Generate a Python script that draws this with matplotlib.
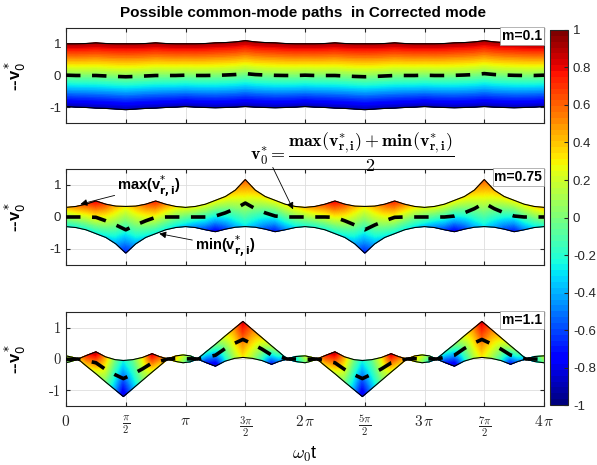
import numpy as np
import matplotlib.pyplot as plt
from matplotlib.colors import ListedColormap

plt.rcParams['font.family'] = ['Liberation Sans', 'DejaVu Sans']

# sample positions (units of pi) for m=0.1 and m=0.75 panels
t_grid = np.linspace(0, 4, 49)

# m = 0.1
upper1 = [1.00, 1.00, 1.01, 1.03, 1.01, 1.00, 1.00, 1.00, 1.01, 1.03, 1.01, 1.00,
          1.00, 1.00, 1.01, 1.03, 1.04, 1.06, 1.10, 1.06, 1.04, 1.03, 1.01, 1.00,
          1.00, 1.00, 1.01, 1.03, 1.01, 1.00, 1.00, 1.00, 1.01, 1.03, 1.01, 1.00,
          1.00, 1.00, 1.01, 1.03, 1.04, 1.06, 1.10, 1.06, 1.04, 1.03, 1.01, 1.00, 1.00]
lower1 = [-0.98, -1.00, -1.01, -1.03, -1.04, -1.06, -1.08, -1.06, -1.04, -1.03, -1.01, -1.00,
          -0.98, -1.00, -1.01, -1.02, -1.01, -1.00, -0.98, -1.00, -1.01, -1.02, -1.01, -1.00,
          -0.98, -1.00, -1.01, -1.03, -1.04, -1.06, -1.08, -1.06, -1.04, -1.03, -1.01, -1.00,
          -0.98, -1.00, -1.01, -1.02, -1.01, -1.00, -0.98, -1.00, -1.01, -1.02, -1.01, -1.00, -0.98]
ctop1 = 0.92
cbot1 = -0.92

# m = 0.75
upper2 = [0.30, 0.33, 0.40, 0.50, 0.40, 0.34, 0.33, 0.34, 0.40, 0.50, 0.40, 0.33,
          0.30, 0.33, 0.40, 0.52, 0.64, 0.84, 1.17, 0.84, 0.64, 0.52, 0.40, 0.33,
          0.30, 0.33, 0.40, 0.50, 0.40, 0.34, 0.33, 0.34, 0.40, 0.50, 0.40, 0.33,
          0.30, 0.33, 0.40, 0.52, 0.64, 0.84, 1.17, 0.84, 0.64, 0.52, 0.40, 0.33, 0.30]
lower2 = [-0.30, -0.33, -0.40, -0.52, -0.64, -0.84, -1.13, -0.84, -0.64, -0.52, -0.40, -0.33,
          -0.30, -0.33, -0.40, -0.46, -0.38, -0.32, -0.30, -0.32, -0.38, -0.46, -0.40, -0.33,
          -0.30, -0.33, -0.40, -0.52, -0.64, -0.84, -1.13, -0.84, -0.64, -0.52, -0.40, -0.33,
          -0.30, -0.33, -0.40, -0.46, -0.38, -0.32, -0.30, -0.32, -0.38, -0.46, -0.40, -0.33, -0.30]
ctop2 = [0.38, 0.50, 0.62, 0.80, 0.62, 0.42, 0.30, 0.42, 0.58, 0.72, 0.50, 0.32,
         0.25, 0.25, 0.25, 0.28, 0.32, 0.42, 0.60, 0.42, 0.32, 0.28, 0.28, 0.32,
         0.38, 0.50, 0.62, 0.80, 0.62, 0.42, 0.30, 0.42, 0.58, 0.72, 0.50, 0.32,
         0.25, 0.25, 0.25, 0.28, 0.32, 0.42, 0.60, 0.42, 0.32, 0.28, 0.28, 0.32, 0.38]
cbot2 = [-0.25, -0.25, -0.25, -0.28, -0.32, -0.42, -0.70, -0.42, -0.32, -0.28, -0.28, -0.32,
         -0.38, -0.50, -0.62, -0.80, -0.62, -0.42, -0.30, -0.42, -0.58, -0.72, -0.50, -0.32,
         -0.25, -0.25, -0.25, -0.28, -0.32, -0.42, -0.70, -0.42, -0.32, -0.28, -0.28, -0.32,
         -0.38, -0.50, -0.62, -0.80, -0.62, -0.42, -0.30, -0.42, -0.58, -0.72, -0.50, -0.32, -0.25]

# m = 1.1 (own sample positions, units of pi)
t3 = [0, 0.05, 0.10, 0.175, 0.25, 0.33, 0.41, 0.48, 0.56, 0.64, 0.72, 0.78, 0.85, 0.92, 0.98,
      1.04, 1.10, 1.175, 1.25, 1.33, 1.41, 1.48, 1.56, 1.64, 1.72, 1.78, 1.85, 1.92,
      2.0, 2.05, 2.10, 2.175, 2.25, 2.33, 2.41, 2.48, 2.56, 2.64, 2.72, 2.78, 2.85, 2.92, 2.98,
      3.04, 3.10, 3.175, 3.25, 3.33, 3.41, 3.48, 3.56, 3.64, 3.72, 3.78, 3.85, 3.92, 4.0]
upper3 = [0.10, 0.06, 0.00, 0.12, 0.23, 0.07, -0.02, -0.05, -0.02, 0.05, 0.17, 0.08, 0.00, 0.10, 0.13,
          0.10, 0.00, 0.24, 0.47, 0.73, 0.98, 1.20, 0.94, 0.68, 0.42, 0.23, 0.00, 0.08,
          0.10, 0.06, 0.00, 0.12, 0.23, 0.07, -0.02, -0.05, -0.02, 0.05, 0.17, 0.08, 0.00, 0.10, 0.13,
          0.10, 0.00, 0.24, 0.47, 0.73, 0.98, 1.20, 0.94, 0.68, 0.42, 0.23, 0.00, 0.08, 0.10]
lower3 = [-0.12, -0.07, 0.00, -0.24, -0.47, -0.73, -0.98, -1.20, -0.94, -0.68, -0.42, -0.23, 0.00, -0.08, -0.12,
          -0.09, 0.00, -0.12, -0.23, -0.07, 0.02, 0.05, 0.02, -0.05, -0.17, -0.08, 0.00, -0.08,
          -0.12, -0.07, 0.00, -0.24, -0.47, -0.73, -0.98, -1.20, -0.94, -0.68, -0.42, -0.23, 0.00, -0.08, -0.12,
          -0.09, 0.00, -0.12, -0.23, -0.07, 0.02, 0.05, 0.02, -0.05, -0.17, -0.08, 0.00, -0.08, -0.12]
ctop3 = [0.15, 0.20, 0.35, 0.70, 0.90, 0.45, 0.00, -0.25, -0.05, 0.30, 0.85, 0.60, 0.40, 0.35, 0.20,
         0.00, -0.35, -0.20, 0.00, 0.25, 0.50, 0.85, 0.55, 0.35, 0.15, -0.05, -0.40, -0.25,
         0.15, 0.20, 0.35, 0.70, 0.90, 0.45, 0.00, -0.25, -0.05, 0.30, 0.85, 0.60, 0.40, 0.35, 0.20,
         0.00, -0.35, -0.20, 0.00, 0.25, 0.50, 0.85, 0.55, 0.35, 0.15, -0.05, -0.40, -0.25, 0.15]
cbot3 = [-0.05, 0.10, 0.35, 0.30, 0.15, 0.00, -0.40, -0.85, -0.40, 0.00, 0.20, 0.30, 0.40, 0.25, 0.00,
         -0.30, -0.35, -0.70, -0.90, -0.30, 0.10, 0.30, 0.10, -0.20, -0.75, -0.50, -0.40, -0.30,
         -0.05, 0.10, 0.35, 0.30, 0.15, 0.00, -0.40, -0.85, -0.40, 0.00, 0.20, 0.30, 0.40, 0.25, 0.00,
         -0.30, -0.35, -0.70, -0.90, -0.30, 0.10, 0.30, 0.10, -0.20, -0.75, -0.50, -0.40, -0.30, -0.05]

m_labels = ['m=0.1', 'm=0.75', 'm=1.1']
xtick_labels = [r'$0$', r'$\frac{\pi}{2}$', r'$\pi$', r'$\frac{3\pi}{2}$', r'$2\,\pi$',
                r'$\frac{5\pi}{2}$', r'$3\,\pi$', r'$\frac{7\pi}{2}$', r'$4\,\pi$']

jet = ListedColormap(plt.get_cmap('jet')(np.linspace(0, 1, 64)))
FG = '#262626'


def draw_band(ax, t, top, bot, ctop, cbot):
	t = np.asarray(t, float)
	top = np.asarray(top, float)
	bot = np.asarray(bot, float)
	ctop = np.broadcast_to(np.asarray(ctop, float), t.shape)
	cbot = np.broadcast_to(np.asarray(cbot, float), t.shape)
	# fine mesh only for the shading between the two boundary curves
	tf = np.linspace(t[0], t[-1], 900)
	tp = np.interp(tf, t, top)
	bt = np.interp(tf, t, bot)
	ct = np.interp(tf, t, ctop)
	cb = np.interp(tf, t, cbot)
	f = np.linspace(0, 1, 40)[:, None]
	Y = bt + f * (tp - bt)
	C = cb + f * (ct - cb)
	X = np.broadcast_to(tf * np.pi, Y.shape)
	mesh = ax.pcolormesh(X, Y, C, cmap=jet, vmin=-1, vmax=1, shading='gouraud', zorder=1)
	ax.plot(t * np.pi, top, color='k', lw=0.8, zorder=2)
	ax.plot(t * np.pi, bot, color='k', lw=0.8, zorder=2)
	ax.plot(t * np.pi, (top + bot) / 2, color='k', lw=2.6, ls=(0, (4, 3.2)), zorder=3)
	return mesh


fig = plt.figure(figsize=(5.97, 4.65), dpi=100)
boxes = [[0.1106, 0.7355, 0.8007, 0.2043],
         [0.1106, 0.4301, 0.8007, 0.2065],
         [0.1106, 0.1269, 0.8007, 0.2021]]
axes = [fig.add_axes(b) for b in boxes]

bands = [(t_grid, upper1, lower1, ctop1, cbot1),
         (t_grid, upper2, lower2, ctop2, cbot2),
         (t3, upper3, lower3, ctop3, cbot3)]

for i, ax in enumerate(axes):
	mesh = draw_band(ax, *bands[i])
	ax.set_xlim(0, 4 * np.pi)
	ax.set_ylim(-1.5, 1.5)
	ax.set_xticks(np.arange(9) * np.pi / 2)
	ax.set_yticks([-1, 0, 1])
	ax.set_axisbelow(True)
	ax.grid(True, color='#dedede', lw=0.6)
	ax.tick_params(direction='in', top=True, right=True, length=3, color=FG, labelcolor=FG)
	for s in ax.spines.values():
		s.set_color(FG)
		s.set_linewidth(0.8)
	ax.set_ylabel(r'--v$_0^*$', fontsize=12, fontweight='bold', color='k')
	ax.yaxis.set_label_coords(-0.08, 0.5)
	ax.text(0.996, 0.988, m_labels[i], transform=ax.transAxes, ha='right', va='top',
	        fontsize=10, fontweight='bold', zorder=10,
	        bbox=dict(fc='white', ec='#999999', lw=0.5, pad=1.2))
	if i < 2:
		ax.set_xticklabels([])
		ax.set_yticklabels(['-1', '0', '1'], fontsize=9.5)

axes[2].set_xticklabels(xtick_labels, fontsize=11, math_fontfamily='cm')
axes[2].set_yticklabels(['-1', '0', '1'], fontsize=10.5, family='cmr10')
axes[2].tick_params(axis='x', pad=6)
axes[2].set_xlabel(r'$\omega_{\mathsf{0}}$t', fontsize=13, math_fontfamily='cm', labelpad=4)

fig.text(0.508, 0.972, 'Possible common-mode paths  in Corrected mode',
         ha='center', va='center', fontsize=11, fontweight='bold')

ax2 = axes[1]
arrow = dict(arrowstyle='-|>', color='k', lw=0.6, mutation_scale=10, shrinkA=0, shrinkB=0)
ax2.annotate(r'max(v$^{*}_{\mathbf{r,i}}$)', xy=(0.12 * np.pi, 0.40), xytext=(0.43 * np.pi, 0.95),
             ha='left', va='center', fontsize=10.5, fontweight='bold', arrowprops=arrow, zorder=6)
ax2.annotate(r'min(v$^{*}_{\mathbf{r,i}}$)', xy=(0.78 * np.pi, -0.52), xytext=(1.08 * np.pi, -0.92),
             ha='left', va='center', fontsize=10.5, fontweight='bold', arrowprops=arrow, zorder=6)
ax2.annotate('', xy=(1.90 * np.pi, 0.24), xytext=(1.73 * np.pi, 1.55),
             arrowprops=arrow, annotation_clip=False, zorder=6)
fig.text(0.419, 0.673,
         r'$\mathbf{v}_{\mathbf{0}}^{\ast} = \dfrac{\mathbf{max(v}_{\mathbf{r,i}}^{\ast}\mathbf{)} + '
         r'\mathbf{min(v}_{\mathbf{r,i}}^{\ast}\mathbf{)}}{\mathbf{2}}$',
         ha='left', va='center', fontsize=13, math_fontfamily='cm')

cax = fig.add_axes([0.9213, 0.129, 0.0302, 0.8065])
cb = fig.colorbar(mesh, cax=cax)
cb.set_ticks(np.round(np.arange(-1, 1.01, 0.2), 1))
cb.set_ticklabels(['-1', '-0.8', '-0.6', '-0.4', '-0.2', '0', '0.2', '0.4', '0.6', '0.8', '1'])
cax.tick_params(direction='in', length=3, labelsize=9.5, color=FG, labelcolor=FG)
cb.outline.set_edgecolor(FG)
cb.outline.set_linewidth(0.8)

fig.savefig('out.png', dpi=100)
